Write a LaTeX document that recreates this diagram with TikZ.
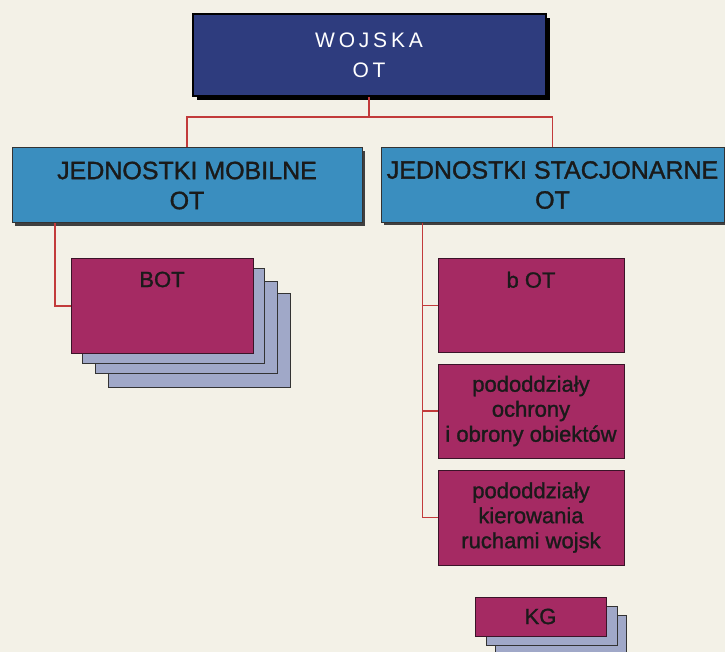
\documentclass[tikz,border=0pt]{standalone}
\usepackage{fontspec}
\setmainfont{Liberation Sans}
\newfontfamily\spacedfont[LetterSpace=18]{Liberation Sans}
\newfontfamily\heavyfont[FakeBold=1.3]{Liberation Sans}
\usetikzlibrary{shadows}
\definecolor{bgcol}{HTML}{F3F1E7}
\definecolor{navy}{HTML}{2E3C7E}
\definecolor{midblue}{HTML}{3A8EBF}
\definecolor{magent}{HTML}{A52A63}
\definecolor{cardcol}{HTML}{A0A8C8}
\definecolor{linecol}{HTML}{C23B3B}
\definecolor{darkline}{HTML}{3A1428}
\definecolor{txt}{HTML}{1A1A1A}
\begin{document}
\begin{tikzpicture}[x=1pt,y=-1pt,
  topbox/.style={draw=black, line width=2pt, fill=navy, text=white,
    minimum width=353, minimum height=82, inner sep=0pt, align=center,
    font=\fontsize{21}{30}\selectfont\spacedfont,
    drop shadow={shadow xshift=4pt, shadow yshift=-4pt, opacity=1, fill=black}},
  midbox/.style={draw=black!80, line width=1pt, fill=midblue, text=txt,
    minimum height=75, inner sep=0pt, align=center,
    font=\fontsize{25}{30}\selectfont\heavyfont,
    drop shadow={shadow xshift=3pt, shadow yshift=-3pt, opacity=1, fill=black!75}},
  unitbox/.style={draw=darkline, line width=1pt, fill=magent, text=txt,
    inner sep=0pt, align=center, font=\fontsize{22}{25}\selectfont\heavyfont},
  unitlabel/.style={text=txt, inner sep=0pt, anchor=north, font=\fontsize{22}{25}\selectfont\heavyfont},
  card/.style={draw=black!80, line width=1pt, fill=cardcol},
  conn/.style={draw=linecol, line width=1.8pt}
]
\fill[bgcol] (0,0) rectangle (725,652);
\useasboundingbox (0,0) rectangle (725,652);

% top
\node[topbox] (wojska) at (369,55) {WOJSKA\\OT};

% second level
\node[midbox, minimum width=350] (mobile) at (187,185.5) {JEDNOSTKI MOBILNE\\OT};
\node[midbox, minimum width=343] (stac) at (552.5,185) {JEDNOSTKI STACJONARNE\\OT};

% stacked cards behind BOT
\draw[card] (108,293) rectangle (290,387);
\draw[card] (95,281) rectangle (277,373);
\draw[card] (82,269) rectangle (264,363);
\node[unitbox, minimum width=182, minimum height=94] (bot) at (162,306) {};
\node[unitlabel, yshift=-13pt] (bottxt) at (bot.north) {BOT};

% stationary units
\node[unitbox, minimum width=186, minimum height=93] (bot2) at (531,305.5) {};
\node[unitlabel, yshift=-13pt] (bot2txt) at (bot2.north) {b OT};
\node[unitbox, minimum width=186, minimum height=94] (ochr) at (531,411) {pododdziały\\ochrony\\i obrony obiektów};
\node[unitbox, minimum width=186, minimum height=95] (kier) at (531,517.5) {pododdziały\\kierowania\\ruchami wojsk};

% KG with stacked cards
\draw[card] (495,615) rectangle (626,656);
\draw[card] (486,606) rectangle (617,645);
\node[unitbox, minimum width=131, minimum height=39] (kg) at (540.5,616.5) {KG};

% connectors
\draw[conn] (wojska.south) -- ++(0,20) coordinate (hub);
\draw[conn] (hub) -| (mobile.north);
\draw[conn] (hub) -| (stac.north);
\draw[conn] ([xshift=-132pt]mobile.south) |- (bot.west);
\draw[conn] ([xshift=42pt]stac.south west) |- (bot2.west);
\draw[conn] ([xshift=42pt]stac.south west) |- (ochr.west);
\draw[conn] ([xshift=42pt]stac.south west) |- (kier.west);
\end{tikzpicture}
\end{document}
